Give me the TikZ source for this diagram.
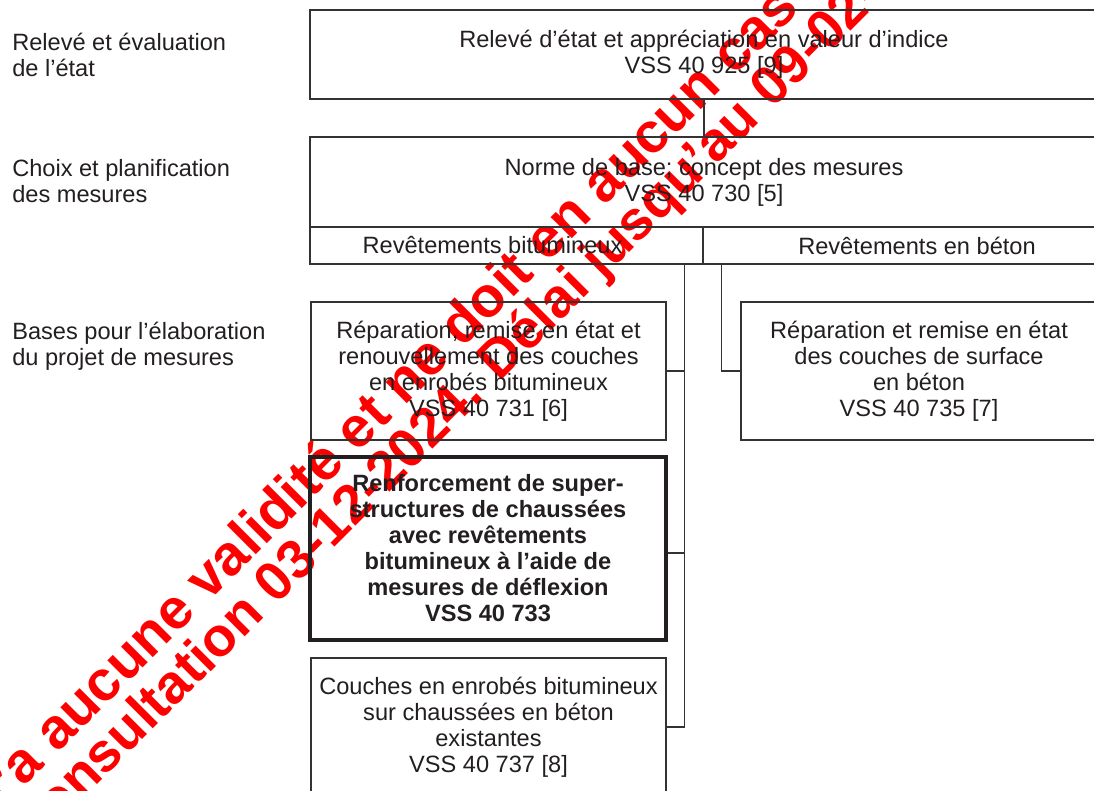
\documentclass[tikz,border=0pt]{standalone}
\usepackage{fontspec}
\setmainfont{Liberation Sans}
\usetikzlibrary{calc}
\definecolor{ink}{HTML}{231F20}
\definecolor{rule}{HTML}{333333}
\definecolor{wmred}{HTML}{FF0000}
\tikzset{
  txt/.style={font=\fontsize{17.7}{19.5}\selectfont, text=ink, align=center, inner sep=0pt},
  lbl/.style={txt, align=left, anchor=west},
  box/.style={txt, draw=rule, line width=0.9pt},
  boldbox/.style={txt, draw=ink, line width=3pt, font=\fontsize{17.7}{19.5}\selectfont\bfseries},
  link/.style={draw=rule, line width=0.9pt},
  wm/.style={text=wmred, font=\fontsize{42.5}{42.5}\selectfont\bfseries, rotate=45, anchor=base west, inner sep=0pt}
}
\begin{document}
\begin{tikzpicture}[x=0.75pt,y=-0.75pt]
\useasboundingbox (0,0) rectangle (1094,791);
% watermark (under the diagram)
\node[wm] (wm1) at (-12,823) {n’a aucune validité et ne doit en aucun cas être};
\node[wm, font=\fontsize{41}{41}\selectfont\bfseries] (wm2) at (36,846) {consultation 03-12-2024. Délai jusqu’au 09-02-2025};
% left labels
\node[lbl] (l1) at (12,55) {Relevé et évaluation\\de l’état};
\node[lbl] (l2) at (12,181) {Choix et planification\\des mesures};
\node[lbl] (l3) at (12,346) {Bases pour l’élaboration\\du projet de mesures};
% boxes
\node[box, minimum width=591pt, minimum height=66.75pt] (top) at (704,54.5)
  {Relevé d’état et appréciation en valeur d’indice\\VSS 40 925 [9]};
\node[box, minimum width=591pt, minimum height=67.5pt] (norme) at (704,182)
  {Norme de base; concept des mesures\\VSS 40 730 [5]};
\node[box, minimum width=294.75pt, minimum height=27.75pt] (bit) at (506.5,245.5)
  {Revêtements bitumineux\rule{21pt}{0pt}};
\node[box, minimum width=321pt, minimum height=27.75pt] (beton) at (917,245.5)
  {Revêtements en béton};
\node[box, minimum width=266.25pt, minimum height=103.5pt] (repA) at (488.5,371)
  {Réparation, remise en état et\\renouvellement des couches\\en enrobés bitumineux\\VSS 40 731 [6]};
\node[box, minimum width=267pt, minimum height=103.5pt] (repB) at (919,371)
  {Réparation et remise en état\\des couches de surface\\en béton\\VSS 40 735 [7]};
\node[boldbox, minimum width=267pt, minimum height=137.25pt] (renf) at (488,548.5)
  {Renforcement de super-\\structures de chaussées\\avec revêtements\\bitumineux à l’aide de\\mesures de déflexion\\VSS 40 733};
\node[box, minimum width=266.25pt, minimum height=103.5pt] (couch) at (488.5,727)
  {Couches en enrobés bitumineux\\sur chaussées en béton\\existantes\\VSS 40 737 [8]};
% connectors
\draw[link] (top.south) -- (norme.north);
\coordinate (trunkB) at ($(bit.south east)+(-19,0)$);
\coordinate (trunkC) at ($(beton.south west)+(19,0)$);
\draw[link] (trunkB) |- (couch.east);
\draw[link] (trunkB) |- (repA.east);
\draw[link] (trunkB) |- ($(renf.east)+(0,4.5)$);
\draw[link] (trunkC) |- (repB.west);
\end{tikzpicture}
\end{document}
